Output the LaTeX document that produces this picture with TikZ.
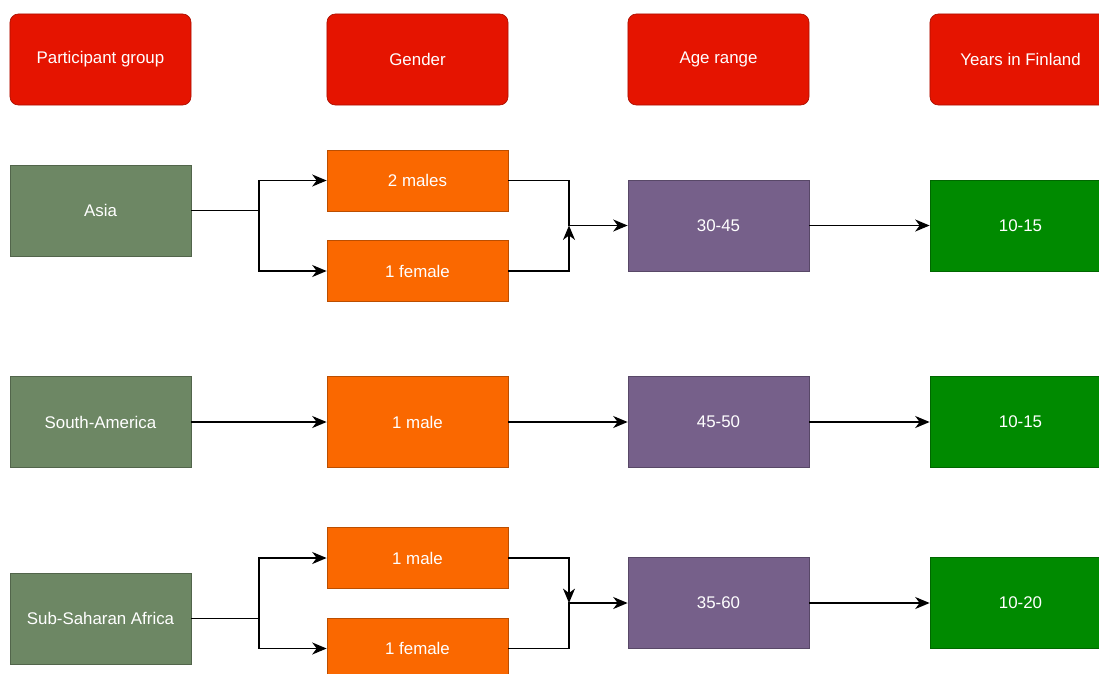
\documentclass[tikz,border=0pt]{standalone}
\usepackage{fontspec}
\setmainfont{Liberation Sans}
\usetikzlibrary{arrows.meta, positioning}
\definecolor{cred}{HTML}{E51400}
\definecolor{csage}{HTML}{6D8764}
\definecolor{corange}{HTML}{FA6800}
\definecolor{cpurple}{HTML}{76608A}
\definecolor{cgreen}{HTML}{008A00}
\tikzset{
  every picture/.style={font=\fontsize{12}{14}\selectfont, line width=1pt},
  box/.style={draw=#1!75!black, line width=0.5pt, fill=#1, text=white, align=center, inner sep=0pt,
    minimum width=4.525cm, minimum height=2.275cm},
  box/.default=csage,
  head/.style={box=cred, rounded corners=6pt},
  small/.style={box=corange, minimum height=1.525cm},
  arrow/.style={-{Stealth[length=3.6mm, width=3mm, inset=1.1mm]}, draw=black},
}
\begin{document}
\begin{tikzpicture}[x=0.025cm, y=-0.025cm]
  \clip (0,0) rectangle (1099,673);
  \fill[white] (0,0) rectangle (1099,673);
  % column headings
  \node[head] (hgroup) at (100.5, 59.5) {Participant group};
  \node[head] (hgender) at (417.5, 59.5) {Gender};
  \node[head] (hage) at (718.5, 59.5) {Age range};
  \node[head] (hyears) at (1020.5, 59.5) {Years in Finland};
  % Asia
  \node[box] (asia) at (100.5, 210.5) {Asia};
  \node[small] (m1) at (417.5, 180.5) {2 males};
  \node[small] (f1) at (417.5, 271) {1 female};
  \node[box=cpurple] (a1) at (718.5, 225.5) {30-45};
  \node[box=cgreen] (y1) at (1020.5, 225.5) {10-15};
  \coordinate (s1) at (259, 210.5);
  \coordinate (j1) at (569, 225.5);
  \draw[arrow] (asia.east) -- (s1) |- (m1.west);
  \draw[arrow] (s1) |- (f1.west);
  \draw[arrow] (m1.east) -| (j1) -- (a1.west);
  \draw[arrow] (f1.east) -| (j1);
  \draw[arrow] (a1) -- (y1);
  % South-America
  \node[box] (sam) at (100.5, 422) {South-America};
  \node[box=corange] (m2) at (417.5, 422) {1 male};
  \node[box=cpurple] (a2) at (718.5, 422) {45-50};
  \node[box=cgreen] (y2) at (1020.5, 422) {10-15};
  \draw[arrow] (sam) -- (m2);
  \draw[arrow] (m2) -- (a2);
  \draw[arrow] (a2) -- (y2);
  % Sub-Saharan Africa
  \node[box] (ssa) at (100.5, 618.5) {Sub-Saharan Africa};
  \node[small] (m3) at (417.5, 558) {1 male};
  \node[small] (f3) at (417.5, 648.5) {1 female};
  \node[box=cpurple] (a3) at (718.5, 603) {35-60};
  \node[box=cgreen] (y3) at (1020.5, 603) {10-20};
  \coordinate (s3) at (259, 618.5);
  \coordinate (j3) at (569, 603);
  \draw[arrow] (ssa.east) -- (s3) |- (m3.west);
  \draw[arrow] (s3) |- (f3.west);
  \draw[arrow] (f3.east) -| (j3) -- (a3.west);
  \draw[arrow] (m3.east) -| (j3);
  \draw[arrow] (a3) -- (y3);
\end{tikzpicture}
\end{document}
